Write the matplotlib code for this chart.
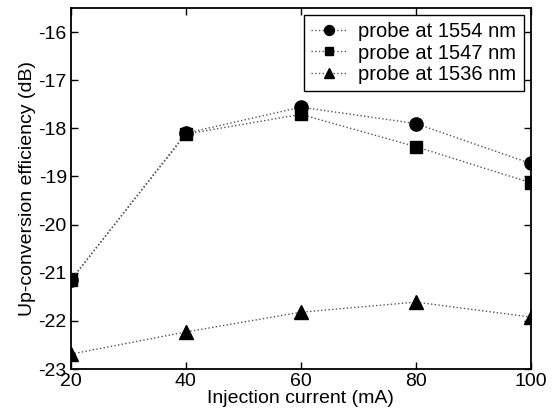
import matplotlib
matplotlib.use('Agg')
import matplotlib.pyplot as plt

plt.rcParams['font.family'] = ['Liberation Sans', 'DejaVu Sans']
plt.rcParams['axes.unicode_minus'] = False

current = [20, 40, 60, 80, 100]
eff_1554 = [-21.15, -18.10, -17.56, -17.90, -18.73]
eff_1547 = [-21.15, -18.12, -17.71, -18.38, -19.13]
eff_1536 = [-22.69, -22.23, -21.82, -21.61, -21.92]
labels = ['probe at 1554 nm', 'probe at 1547 nm', 'probe at 1536 nm']

fig = plt.figure(figsize=(5.56, 4.18), dpi=100)
ax = fig.add_axes([0.1277, 0.1172, 0.8268, 0.8636])

line_kw = dict(color='#555555', linestyle=':', linewidth=1.0,
               markerfacecolor='black', markeredgecolor='black')
ax.plot(current, eff_1554, marker='o', markersize=9.5, label=labels[0], **line_kw)
ax.plot(current, eff_1547, marker='s', markersize=8.5, label=labels[1], **line_kw)
ax.plot(current, eff_1536, marker='^', markersize=10, label=labels[2], **line_kw)

ax.set_xlim(20, 100)
ax.set_ylim(-23, -15.5)
ax.set_xticks([20, 40, 60, 80, 100])
ax.set_yticks([-23, -22, -21, -20, -19, -18, -17, -16])
ax.tick_params(direction='in', top=True, right=True, labelsize=14, length=5, width=1, pad=3)
for s in ax.spines.values():
    s.set_linewidth(1.3)
ax.set_xlabel('Injection current (mA)', fontsize=14, labelpad=0)
ax.set_ylabel('Up-conversion efficiency (dB)', fontsize=14, labelpad=2)

leg = ax.legend(loc='upper right', fontsize=14.5, fancybox=False, framealpha=1,
                edgecolor='black', borderpad=0.35, labelspacing=0.12,
                handlelength=1.75, handletextpad=0.6, borderaxespad=0.35,
                markerscale=0.75)
leg.get_frame().set_linewidth(1.0)

fig.savefig('out.png', dpi=100)
